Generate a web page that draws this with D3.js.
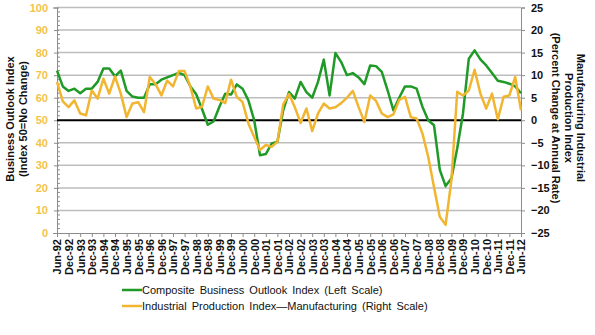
<!DOCTYPE html>
<html>
<head>
<meta charset="utf-8">
<script src="https://cdn.jsdelivr.net/npm/d3@7"></script>
<style>
  body { margin: 0; background: #fff; }
  svg { display: block; font-family: Arial, "Liberation Sans", sans-serif; }
</style>
</head>
<body>
<script>
var Width = 595;
var Height = 335;

// quarterly, Jun-92 .. Jun-12
var outlook = [72, 65, 63, 64, 62, 64, 64, 67, 73, 73,
	69.5, 72, 63, 60.5, 60, 60, 66, 66, 68, 69,
	70, 71, 70, 65, 61.5, 55, 48, 49.5, 56, 61.8,
	61.4, 65.9, 64, 58.8, 50, 34.5, 35, 39.7, 40.4, 54.4,
	62.5, 59.6, 67, 62.5, 60, 67, 76.9, 61, 79.8, 75.8,
	70, 70.9, 69, 66, 74.3, 74, 71.4, 63.3, 54.4, 60,
	65, 65, 64, 56, 50, 47.8, 28, 20.8, 24.2, 37.5,
	53, 77.3, 81, 77, 74.3, 71, 67.5, 67, 66.2, 65,
	62];

var production = [8.5, 4.2, 2.9, 4.4, 1.5, 1.1, 6.6, 4.8, 9.2, 5.9,
	9.7, 5.9, 0.7, 3.7, 4, 1.8, 9.6, 8, 5.5, 8.8,
	7.5, 10.9, 10.9, 7.4, 2.6, 3, 7.5, 4.8, 4.5, 3.8,
	9, 5.2, 4, -0.7, -3.7, -6.6, -5.5, -5.9, -4.8, 3.5,
	5.8, 2.9, -0.6, 2.6, -2.4, 1.5, 3.7, 2.6, 2.9, 3.8,
	5, 6.5, 2.9, -0.4, 5.5, 4.3, 1.5, 0.7, 1.3, 4.5,
	5.2, 0.7, 0.4, -2.9, -8.1, -14.8, -21.4, -23.2, -13.3, 6.3,
	5.5, 6.6, 11.2, 5.9, 2.6, 5.9, 0.2, 5.2, 5.5, 9.6,
	2.2];

var tickLabels = ["Jun-92", "Dec-92", "Jun-93", "Dec-93", "Jun-94", "Dec-94", "Jun-95", "Dec-95",
	"Jun-96", "Dec-96", "Jun-97", "Dec-97", "Jun-98", "Dec-98", "Jun-99", "Dec-99",
	"Jun-00", "Dec-00", "Jun-01", "Dec-01", "Jun-02", "Dec-02", "Jun-03", "Dec-03",
	"Jun-04", "Dec-04", "Jun-05", "Dec-05", "Jun-06", "Dec-06", "Jun-07", "Dec-07",
	"Jun-08", "Dec-08", "Jun-09", "Dec-09", "Jun-10", "Dec-10", "Jun-11", "Dec-11", "Jun-12"];

var leftTicks = [0, 10, 20, 30, 40, 50, 60, 70, 80, 90, 100];
var rightTicks = [-25, -20, -15, -10, -5, 0, 5, 10, 15, 20, 25];

var seriesNames = ["Composite Business Outlook Index (Left Scale)",
	"Industrial Production Index\u2014Manufacturing (Right Scale)"];

var green = "#1f9a27";
var gold = "#f2b530";

var svg = d3.select("body").append("svg")
	.attr("width", Width)
	.attr("height", Height);

var x = d3.scaleLinear().domain([0, outlook.length - 1]).range([57, 521]);
var yL = d3.scaleLinear().domain([0, 100]).range([233, 7.5]);
var yR = d3.scaleLinear().domain([-25, 25]).range([233, 7.5]);

// gridlines
svg.append("g")
	.selectAll("line")
	.data(leftTicks.filter(function (d) { return d > 0 && d != 50; }))
	.enter()
	.append("line")
	.attr("x1", 57).attr("x2", 521)
	.attr("y1", function (d) { return yL(d); })
	.attr("y2", function (d) { return yL(d); })
	.attr("stroke", "#bdbdbd")
	.attr("stroke-width", 1.5);

// left axis
var leftAxis = svg.append("g")
	.attr("transform", "translate(57,0)")
	.call(d3.axisLeft(yL).tickValues(leftTicks).tickSize(4).tickPadding(5));
leftAxis.select(".domain").attr("stroke", "#8c8c8c");
leftAxis.selectAll(".tick line").attr("stroke", "#8c8c8c").attr("x2", -3).attr("x1", 2);
leftAxis.selectAll("text")
	.attr("fill", "#f3c34a")
	.style("font-size", "11px")
	.style("font-weight", "bold");

// minor ticks on left axis
svg.append("g")
	.selectAll("line")
	.data(d3.range(0, 101, 2).filter(function (d) { return d % 10 != 0; }))
	.enter()
	.append("line")
	.attr("x1", 57).attr("x2", 60)
	.attr("y1", function (d) { return yL(d); })
	.attr("y2", function (d) { return yL(d); })
	.attr("stroke", "#8c8c8c");

// right axis
var rightAxis = svg.append("g")
	.attr("transform", "translate(521,0)")
	.call(d3.axisRight(yR).tickValues(rightTicks).tickSize(4).tickPadding(6));
rightAxis.select(".domain").attr("stroke", "#8c8c8c");
rightAxis.selectAll(".tick line").attr("stroke", "#8c8c8c");
rightAxis.selectAll("text")
	.attr("fill", "#111")
	.style("font-size", "11px")
	.style("font-weight", "bold");

// bottom axis
var bottomAxis = svg.append("g")
	.attr("transform", "translate(0,233)")
	.call(d3.axisBottom(x)
		.tickValues(d3.range(0, outlook.length, 2))
		.tickFormat(function (d) { return tickLabels[d / 2]; })
		.tickSize(4));
bottomAxis.select(".domain").attr("stroke", "#8c8c8c");
bottomAxis.selectAll(".tick line").attr("stroke", "#8c8c8c");
bottomAxis.selectAll("text")
	.attr("transform", "rotate(-90)")
	.attr("x", -6)
	.attr("y", 0)
	.attr("dy", "0.35em")
	.attr("text-anchor", "end")
	.attr("fill", "#111")
	.style("font-size", "11px")
	.style("font-weight", "bold");

// 50 line
svg.append("line")
	.attr("x1", 57).attr("x2", 521)
	.attr("y1", yL(50)).attr("y2", yL(50))
	.attr("stroke", "#000")
	.attr("stroke-width", 2);

// series
svg.append("path")
	.datum(outlook)
	.attr("fill", "none")
	.attr("stroke", green)
	.attr("stroke-width", 2.5)
	.attr("stroke-linejoin", "round")
	.attr("d", d3.line()
		.x(function (d, i) { return x(i); })
		.y(function (d) { return yL(d); }));

svg.append("path")
	.datum(production)
	.attr("fill", "none")
	.attr("stroke", gold)
	.attr("stroke-width", 2.5)
	.attr("stroke-linejoin", "round")
	.attr("d", d3.line()
		.x(function (d, i) { return x(i); })
		.y(function (d) { return yR(d); }));

// axis titles
var lt = svg.append("text")
	.attr("transform", "translate(10,119) rotate(-90)")
	.attr("text-anchor", "middle")
	.style("font-size", "11px")
	.style("font-weight", "bold")
	.attr("fill", "#111");
lt.append("tspan").attr("x", 0).attr("dy", "0.35em").text("Business  Outlook  Index");
lt.append("tspan").attr("x", 0).attr("dy", "1.15em").text("(Index 50=No Change)");

var rt = svg.append("text")
	.attr("transform", "translate(581,118) rotate(90)")
	.attr("text-anchor", "middle")
	.style("font-size", "11px")
	.style("font-weight", "bold")
	.attr("fill", "#111");
rt.append("tspan").attr("x", 0).attr("dy", "0.35em").text("Manufacturing  Industrial");
rt.append("tspan").attr("x", 0).attr("dy", "1.15em").text("Production  Index");
rt.append("tspan").attr("x", 0).attr("dy", "1.15em").text("(Percent Change at Annual Rate)");

// legend
var legend = svg.append("g")
	.selectAll("g")
	.data(seriesNames)
	.enter()
	.append("g")
	.attr("transform", function (d, i) { return "translate(122," + (290 + i * 16) + ")"; });
legend.append("line")
	.attr("x1", 0).attr("x2", 20)
	.attr("stroke", function (d, i) { return i == 0 ? green : gold; })
	.attr("stroke-width", 2.5);
legend.append("text")
	.attr("x", 20)
	.attr("dy", "0.35em")
	.style("font-size", "11px")
	.style("word-spacing", "2px")
	.attr("fill", "#111")
	.text(function (d) { return d; });
</script>
</body>
</html>
